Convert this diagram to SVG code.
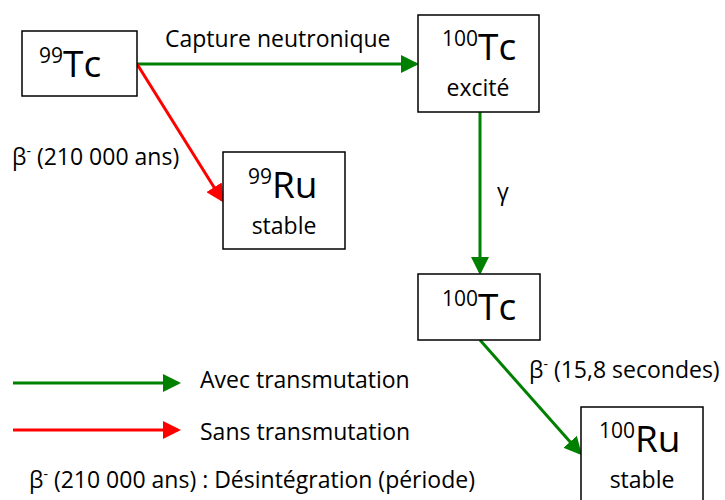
<svg xmlns="http://www.w3.org/2000/svg" width="725" height="500" viewBox="0 0 725 500">
<style>
text{font-family:"Open Sans","Liberation Sans",sans-serif;fill:#000}
.box{fill:#fff;stroke:#000;stroke-width:1.5}
.big{font-size:37px}
.sup{font-size:21px}
.lbl{font-size:23px}
.g{stroke:#008000;stroke-width:3;fill:none}
.r{stroke:#ff0000;stroke-width:3;fill:none}
</style>
<defs>
<marker id="ag" markerWidth="6" markerHeight="6" refX="5" refY="3" orient="auto" markerUnits="strokeWidth"><path d="M0,0 L6,3 L0,6 z" fill="#008000"/></marker>
<marker id="ar" markerWidth="6" markerHeight="6" refX="5" refY="3" orient="auto" markerUnits="strokeWidth"><path d="M0,0 L6,3 L0,6 z" fill="#ff0000"/></marker>
</defs>
<g id="connectors">
<line class="g" x1="137" y1="64" x2="416" y2="64" marker-end="url(#ag)"/>
<line class="r" x1="137" y1="64" x2="222" y2="200" marker-end="url(#ar)"/>
<line class="g" x1="480" y1="112" x2="480" y2="272" marker-end="url(#ag)"/>
<line class="g" x1="480" y1="340" x2="580" y2="453" marker-end="url(#ag)"/>
<text class="lbl" x="165" y="47">Capture neutronique</text>
<text class="lbl" x="12" y="165">β<tspan font-size="14" dy="-9">-</tspan><tspan dy="9"> (210 000 ans)</tspan></text>
<text class="lbl" x="497" y="200">γ</text>
<text class="lbl" x="529" y="378">β<tspan font-size="14" dy="-9">-</tspan><tspan dy="9"> (15,8 secondes)</tspan></text>
</g>
<g id="tc99">
<rect class="box" x="22" y="31" width="115" height="65"/>
<text x="39" y="77"><tspan class="sup" dy="-14">99</tspan><tspan class="big" dy="14">Tc</tspan></text>
</g>
<g id="tc100ex">
<rect class="box" x="418" y="15" width="121" height="97"/>
<text x="442" y="60"><tspan class="sup" dy="-14">100</tspan><tspan class="big" dy="14">Tc</tspan></text>
<text class="lbl" x="478" y="96" text-anchor="middle">excité</text>
</g>
<g id="ru99">
<rect class="box" x="223" y="152" width="122" height="97"/>
<text x="248" y="198"><tspan class="sup" dy="-14">99</tspan><tspan class="big" dy="14">Ru</tspan></text>
<text class="lbl" x="284" y="234" text-anchor="middle">stable</text>
</g>
<g id="tc100">
<rect class="box" x="418" y="274" width="122" height="66"/>
<text x="442" y="320"><tspan class="sup" dy="-14">100</tspan><tspan class="big" dy="14">Tc</tspan></text>
</g>
<g id="ru100">
<rect class="box" x="581" y="407" width="122" height="100"/>
<text x="599" y="452"><tspan class="sup" dy="-14">100</tspan><tspan class="big" dy="14">Ru</tspan></text>
<text class="lbl" x="642" y="488" text-anchor="middle">stable</text>
</g>
<g id="legend">
<line class="g" x1="13" y1="383" x2="178" y2="383" marker-end="url(#ag)"/>
<line class="r" x1="13" y1="430" x2="178" y2="430" marker-end="url(#ar)"/>
<text class="lbl" x="200" y="388">Avec transmutation</text>
<text class="lbl" x="200" y="440">Sans transmutation</text>
<text class="lbl" x="29" y="488">β<tspan font-size="14" dy="-9">-</tspan><tspan dy="9"> (210 000 ans) : Désintégration (période)</tspan></text>
</g>
</svg>
